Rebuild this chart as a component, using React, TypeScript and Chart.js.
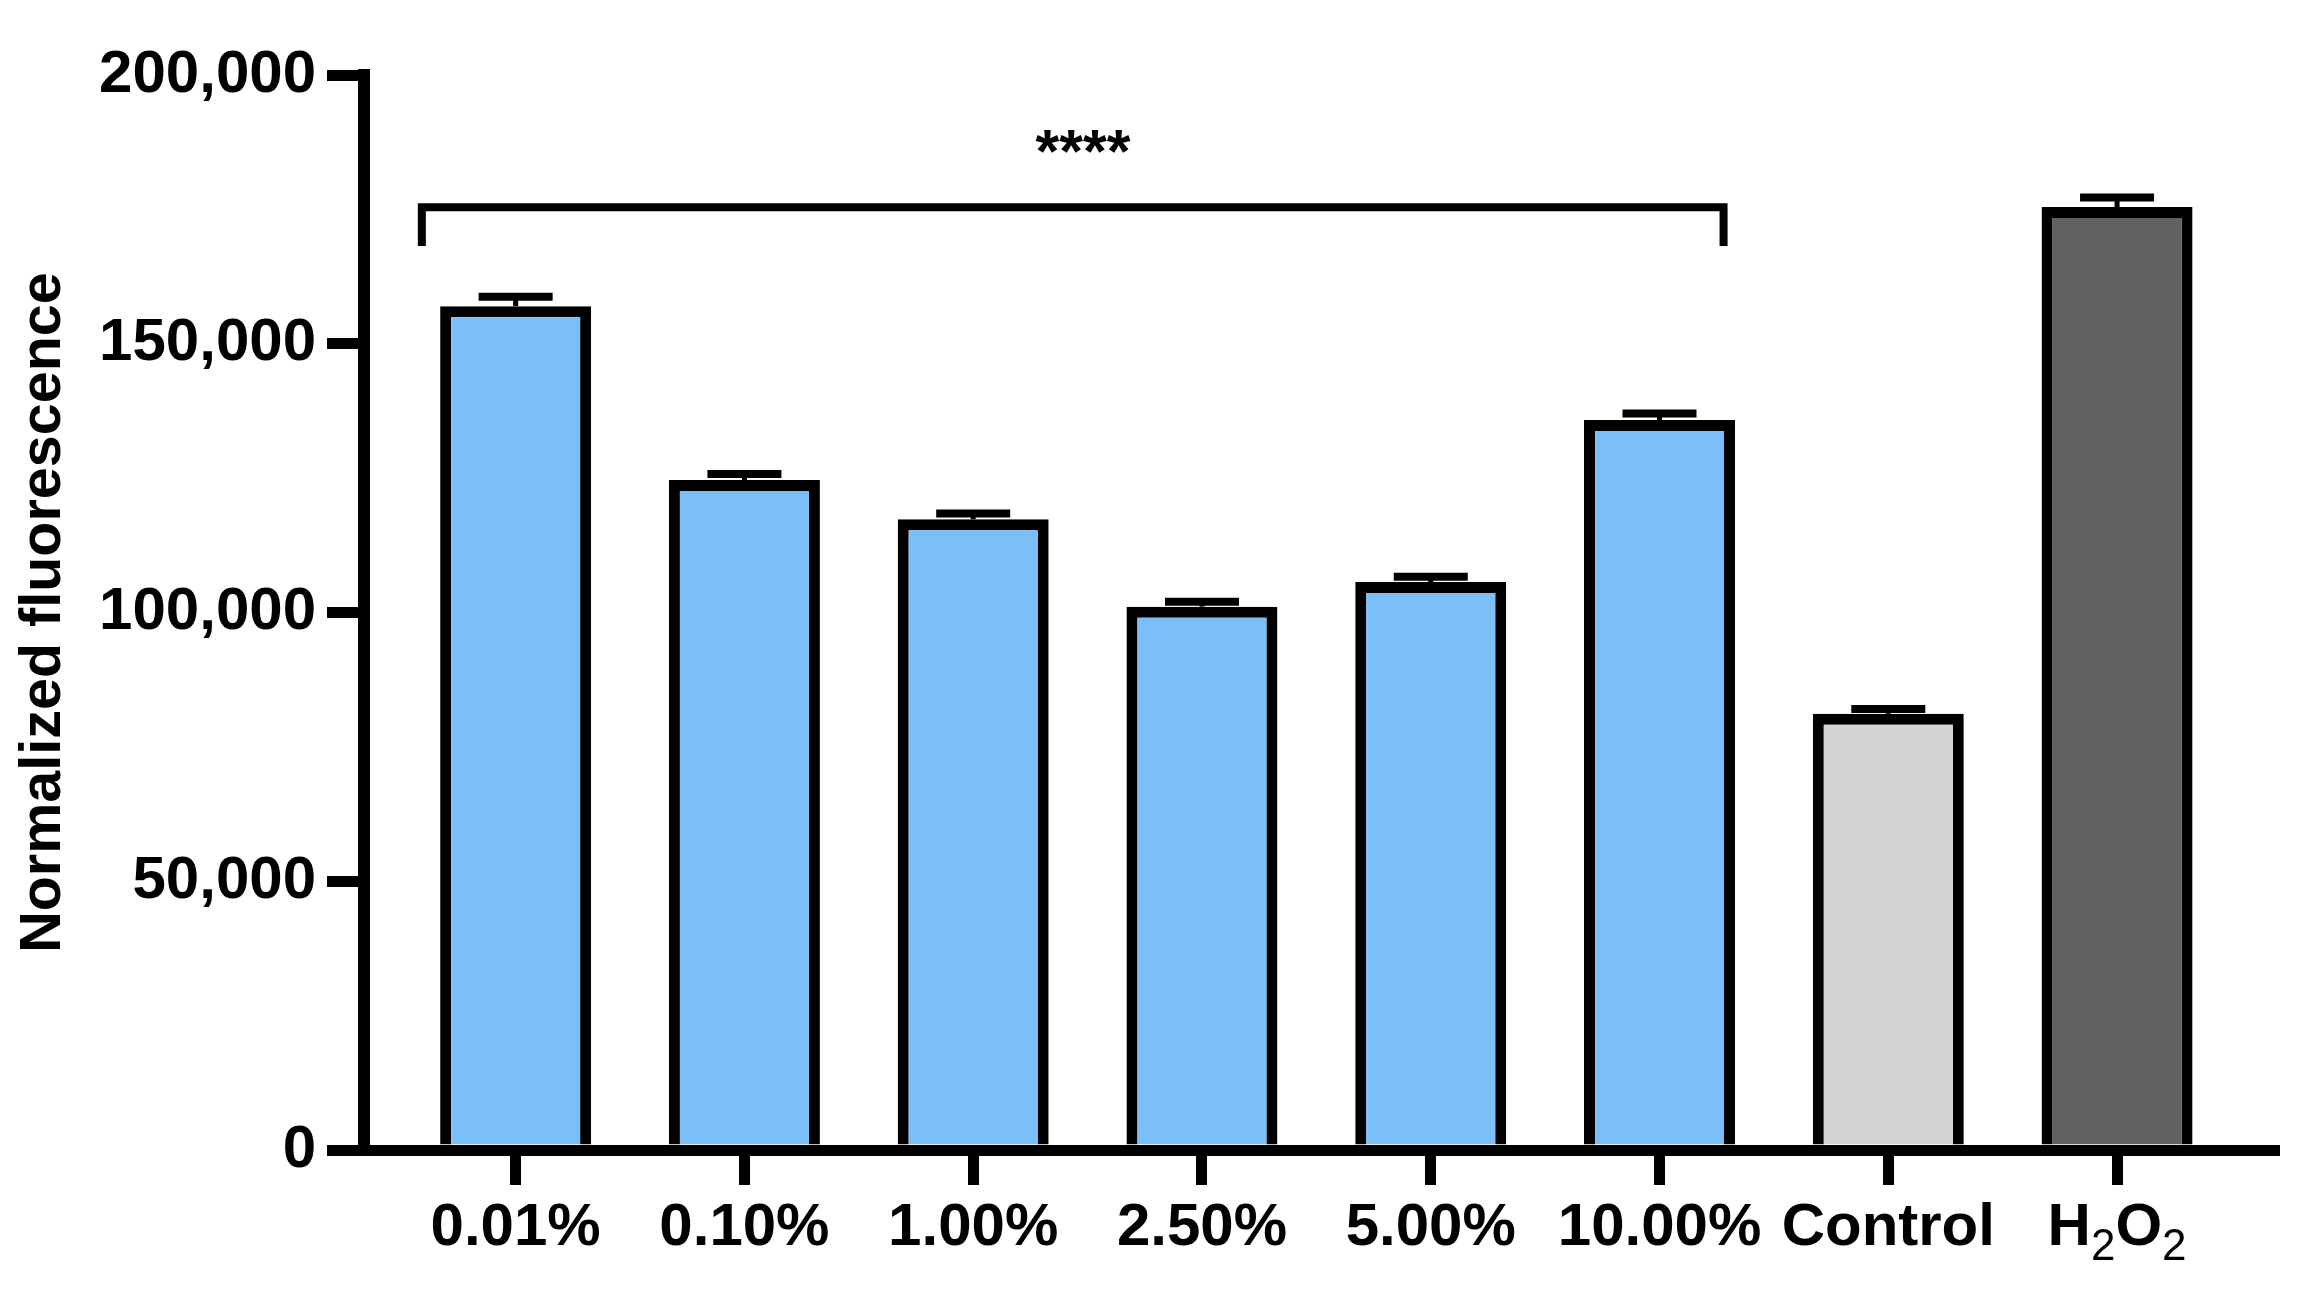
import React, { useEffect, useRef } from "react";
import { Chart, registerables } from "chart.js";

Chart.register(...registerables);

// ---- data ----
const categories = ["0.01%", "0.10%", "1.00%", "2.50%", "5.00%", "10.00%", "Control", "H₂O₂"];
const means = [157000, 124650, 117340, 101080, 105670, 135810, 81150, 175420];
const sems = [1750, 1100, 1100, 900, 1000, 1200, 900, 1800];
const barColors = ["#7BBFF9", "#7BBFF9", "#7BBFF9", "#7BBFF9", "#7BBFF9", "#7BBFF9", "#D4D4D4", "#616161"];
const yTicks = [0, 50000, 100000, 150000, 200000];
const yAxisTitle = "Normalized fluorescence";

// significance bracket (data coordinates)
const bracketFrom = -0.41;
const bracketTo = 5.28;
const bracketY = 175400;
const bracketDropY = 168200;
const sigLabel = "****";
const sigX = 2.48;
const sigY = 182000;

const FONT = "'Liberation Sans', Arial, Helvetica, sans-serif";
const TICK_SIZE = 60;
const SUB_SIZE = 44;
const SUBS: Record<string, string> = { "₀": "0", "₁": "1", "₂": "2", "₃": "3", "₄": "4", "₅": "5", "₆": "6", "₇": "7", "₈": "8", "₉": "9" };
const hasSub = (s: string) => [...s].some((c) => SUBS[c] !== undefined);

const errorBarPlugin = {
  id: "errorBars",
  afterDatasetsDraw(chart: any) {
    const { ctx, scales } = chart;
    const x = scales.x;
    const y = scales.y;
    ctx.save();
    ctx.strokeStyle = "#000";
    ctx.lineCap = "butt";
    means.forEach((m, i) => {
      const px = x.getPixelForValue(i);
      const yBase = y.getPixelForValue(m);
      const yTop = y.getPixelForValue(m + sems[i]);
      ctx.lineWidth = 5;
      ctx.beginPath();
      ctx.moveTo(px, yBase);
      ctx.lineTo(px, yTop);
      ctx.stroke();
      ctx.lineWidth = 8;
      ctx.beginPath();
      ctx.moveTo(px - 37, yTop);
      ctx.lineTo(px + 37, yTop);
      ctx.stroke();
    });
    ctx.restore();
  },
};

const bracketPlugin = {
  id: "sigBracket",
  afterDatasetsDraw(chart: any) {
    const { ctx, scales } = chart;
    const x = scales.x;
    const y = scales.y;
    const x1 = x.getPixelForValue(bracketFrom);
    const x2 = x.getPixelForValue(bracketTo);
    const yl = y.getPixelForValue(bracketY);
    const yd = y.getPixelForValue(bracketDropY);
    ctx.save();
    ctx.strokeStyle = "#000";
    ctx.lineWidth = 8;
    ctx.lineJoin = "miter";
    ctx.lineCap = "butt";
    ctx.beginPath();
    ctx.moveTo(x1, yd);
    ctx.lineTo(x1, yl);
    ctx.lineTo(x2, yl);
    ctx.lineTo(x2, yd);
    ctx.stroke();
    ctx.fillStyle = "#000";
    ctx.font = `bold 61px ${FONT}`;
    ctx.textAlign = "center";
    ctx.textBaseline = "alphabetic";
    ctx.fillText(sigLabel, x.getPixelForValue(sigX), y.getPixelForValue(sigY));
    ctx.restore();
  },
};

// draws tick labels that contain subscripts (e.g. H₂O₂) with real subscript layout
const subscriptLabelPlugin = {
  id: "subscriptLabels",
  afterDraw(chart: any) {
    const { ctx, scales } = chart;
    const x = scales.x;
    const lineHeight = TICK_SIZE * 1.2;
    const yMid = x.top + 35 + 7 + lineHeight / 2;
    ctx.save();
    ctx.fillStyle = "#000";
    categories.forEach((label, i) => {
      if (!hasSub(label)) return;
      const mainFont = `bold ${TICK_SIZE}px ${FONT}`;
      const subFont = `${SUB_SIZE}px ${FONT}`;
      ctx.font = mainFont;
      ctx.textBaseline = "middle";
      const baseline = yMid + ctx.measureText("H").actualBoundingBoxDescent;
      const parts = [...label].map((c) => ({ t: SUBS[c] ?? c, sub: SUBS[c] !== undefined }));
      let total = 0;
      parts.forEach((p) => {
        ctx.font = p.sub ? subFont : mainFont;
        total += ctx.measureText(p.t).width;
      });
      let cx = x.getPixelForValue(i) - total / 2;
      ctx.textAlign = "left";
      ctx.textBaseline = "alphabetic";
      parts.forEach((p) => {
        ctx.font = p.sub ? subFont : mainFont;
        ctx.fillText(p.t, cx, p.sub ? baseline + 15 : baseline);
        cx += ctx.measureText(p.t).width;
      });
    });
    ctx.restore();
  },
};

export default function App() {
  const canvasRef = useRef<HTMLCanvasElement | null>(null);

  useEffect(() => {
    if (!canvasRef.current) return;
    const chart = new Chart(canvasRef.current, {
      type: "bar",
      data: {
        datasets: [
          {
            data: categories.map((_, i) => ({ x: i, y: means[i] })),
            backgroundColor: barColors,
            borderColor: "#000",
            borderWidth: 11,
            borderSkipped: "start",
            barPercentage: 0.66,
            categoryPercentage: 1,
          } as any,
        ],
      },
      options: {
        animation: false,
        responsive: true,
        maintainAspectRatio: false,
        layout: { padding: { top: 75, right: 25, left: 0, bottom: 0 } },
        plugins: {
          legend: { display: false },
          tooltip: { enabled: false },
        },
        scales: {
          x: {
            type: "linear",
            min: -0.665,
            max: 7.686,
            offset: false,
            z: 1,
            afterBuildTicks: (s: any) => {
              s.ticks = categories.map((_, i) => ({ value: i }));
            },
            afterFit: (s: any) => {
              s.height = 145;
            },
            grid: {
              display: true,
              offset: false,
              drawOnChartArea: false,
              drawTicks: true,
              tickLength: 35,
              tickWidth: 11,
              tickColor: "#000",
              lineWidth: 11,
              color: "#000",
            },
            border: { display: true, width: 11, color: "#000" },
            ticks: {
              padding: 7,
              color: "#000",
              maxRotation: 0,
              autoSkip: false,
              font: { family: FONT, size: TICK_SIZE, weight: "bold" },
              callback: (v: any) => {
                const l = categories[Number(v)] ?? "";
                return hasSub(l) ? "" : l;
              },
            },
          } as any,
          y: {
            type: "linear",
            min: 0,
            max: 200000,
            afterBuildTicks: (s: any) => {
              s.ticks = yTicks.map((v) => ({ value: v }));
            },
            afterFit: (s: any) => {
              s.width = 363.5;
            },
            grid: {
              display: true,
              drawOnChartArea: false,
              drawTicks: true,
              tickLength: 36.5,
              tickWidth: 11,
              tickColor: "#000",
              lineWidth: 11,
              color: "#000",
            },
            border: { display: true, width: 12, color: "#000" },
            ticks: {
              padding: 11,
              color: "#000",
              font: { family: FONT, size: TICK_SIZE, weight: "bold" },
              callback: (v: any) => Number(v).toLocaleString("en-US"),
            },
            title: {
              display: true,
              text: yAxisTitle,
              color: "#000",
              font: { family: FONT, size: 57.5, weight: "bold" },
              padding: { top: 9.5, bottom: 0 },
            },
          } as any,
        },
      },
      plugins: [errorBarPlugin, bracketPlugin, subscriptLabelPlugin],
    });
    return () => chart.destroy();
  }, []);

  return (
    <div style={{ position: "fixed", left: 0, top: 0, width: "100vw", height: "100vh", background: "#fff" }}>
      <canvas ref={canvasRef} />
    </div>
  );
}
